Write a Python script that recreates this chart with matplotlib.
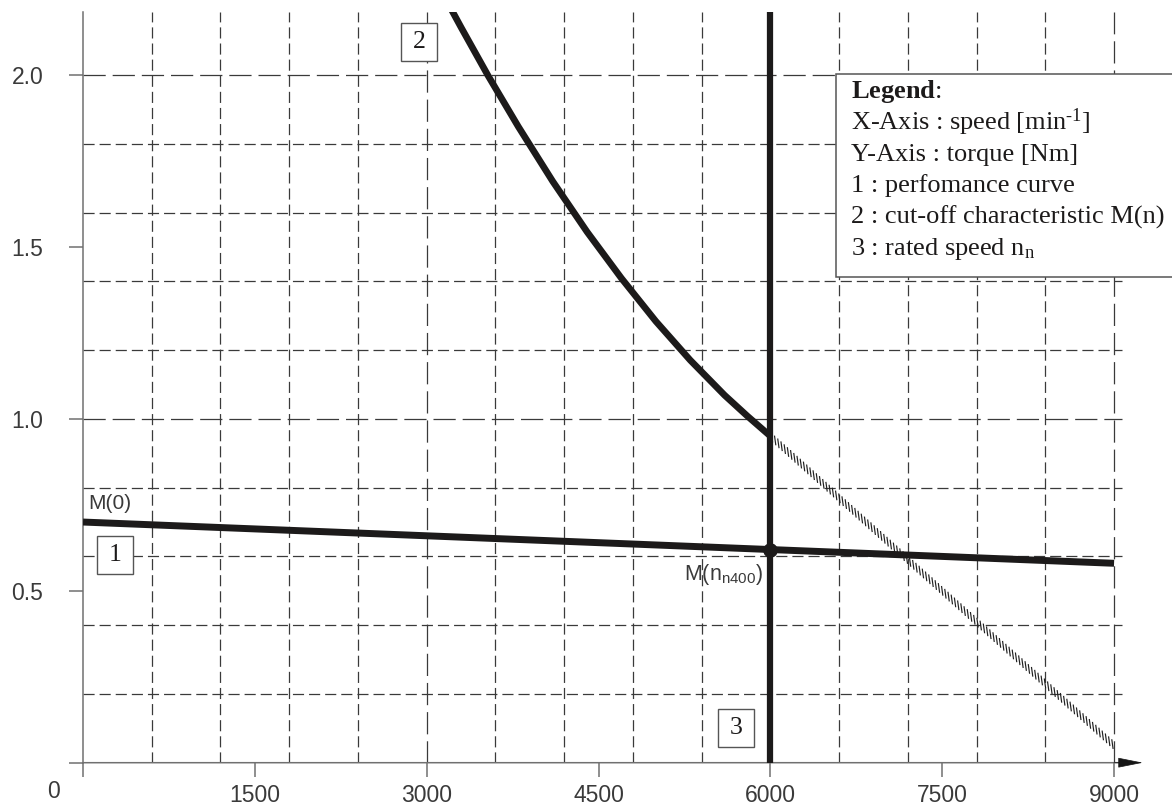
import matplotlib
matplotlib.use("Agg")
import matplotlib.pyplot as plt
import matplotlib.patheffects as pe
import matplotlib.transforms as mtransforms
from matplotlib.patches import Rectangle

plt.rcParams["lines.scale_dashes"] = False
plt.rcParams["font.family"] = ["Liberation Sans", "DejaVu Sans"]
plt.rcParams["mathtext.fontset"] = "custom"
plt.rcParams["mathtext.rm"] = "Liberation Serif"
plt.rcParams["mathtext.it"] = "Liberation Serif:italic"
plt.rcParams["mathtext.bf"] = "Liberation Serif:bold"

# --- values ---
x_ticks = [0, 1500, 3000, 4500, 6000, 7500, 9000]
x_tick_labels = ["", "1500", "3000", "4500", "6000", "7500", "9000"]
y_ticks = [0, 0.5, 1.0, 1.5, 2.0]
y_tick_labels = ["", "0.5", "1.0", "1.5", "2.0"]

grid_speed_short = [600, 1200, 1800, 2400, 3600, 4200, 4800, 5400, 6600, 7200, 7800, 8400]
grid_speed_long = [3000, 6000, 9000]
grid_torque_short = [0.2, 0.4, 0.6, 0.8, 1.2, 1.4, 1.6, 1.8]
grid_torque_long = [1.0, 2.0]

# 1 : performance curve
perf_speed = [0, 1500, 3000, 4500, 6000, 7500, 9000]
perf_torque = [0.700, 0.680, 0.660, 0.640, 0.620, 0.600, 0.580]

# 2 : cut-off characteristic M(n)
cutoff_speed = [3150, 3300, 3533, 3800, 4100, 4400, 4700, 5000, 5300, 5600, 5800, 6000]
cutoff_torque = [2.231, 2.139, 2.000, 1.850, 1.691, 1.544, 1.409, 1.284, 1.171, 1.069, 1.008, 0.950]

# continuation of the cut-off line beyond rated speed (hatched)
ext_speed = [6000, 9000]
ext_torque = [0.95, 0.05]

# 3 : rated speed
rated_speed = 6000
rated_torque = 0.62

box_labels = ["1", "2", "3"]
box_speed = [279, 2933, 5700]
box_torque = [0.604, 2.095, 0.10]

legend_lines = [
    r"$\mathbf{Legend}$:",
    "X-Axis : speed [min$^{\\mathregular{\u20101}}$]",
    "Y-Axis : torque [Nm]",
    "1 : perfomance curve",
    "2 : cut-off characteristic M(n)",
    r"3 : rated speed n$_{\mathregular{n}}$",
]

W, H = 1172, 805
ink = "#1c1a1a"
grid_col = "#3a3a3a"
axis_col = "#707070"
label_col = "#3a3a3a"

fig = plt.figure(figsize=(W / 100, H / 100), dpi=100)
ax = fig.add_axes([83 / W, (H - 762.7) / H, 1059.7 / W, 751 / H])
ax.set_xlim(0, 9250)
ax.set_ylim(0, 2.1844)

# grid: short dashes every 600 / 0.2, long dashes on the round values
short_dash = (0, (8, 3.6))
long_dash = (0, (16, 5))
for n in grid_speed_short:
    ax.axvline(n, color=grid_col, lw=0.9, ls=short_dash, zorder=1)
for n in grid_speed_long:
    ax.axvline(n, color=grid_col, lw=0.9, ls=long_dash, zorder=1)
ax.hlines(grid_torque_short, 0, 9070, color=grid_col, lw=0.9, linestyles=[short_dash], zorder=1)
ax.hlines(grid_torque_long, 0, 9070, color=grid_col, lw=0.9, linestyles=[long_dash], zorder=1)

# axes
for s in ["top", "right", "bottom"]:
    ax.spines[s].set_visible(False)
ax.spines["left"].set_color(axis_col)
ax.spines["left"].set_linewidth(1.1)
ax.annotate("", xy=(9090, 0), xytext=(0, 0), annotation_clip=False,
            arrowprops=dict(arrowstyle="-", color=axis_col, lw=1.1,
                            shrinkA=0, shrinkB=0))
ax.annotate("", xy=(9250, 0), xytext=(9000, 0), annotation_clip=False,
            arrowprops=dict(arrowstyle="-|>,head_length=1.6,head_width=0.32",
                            mutation_scale=10, color="#151515", lw=0.5,
                            shrinkA=0, shrinkB=0))

ax.set_xticks(x_ticks)
ax.set_xticklabels(x_tick_labels)
ax.set_yticks(y_ticks)
ax.set_yticklabels(y_tick_labels)
ax.tick_params(direction="out", length=10, width=1.1, color=axis_col,
               labelsize=16.5, labelcolor=label_col)
ax.tick_params(axis="x", pad=5)
ax.tick_params(axis="y", pad=18.5)
ax.annotate("0", xy=(0, 0), xytext=(-21.6, -20.5), textcoords="offset points",
            ha="center", va="center", fontsize=16.5, color=label_col)

# curves
ax.plot(perf_speed, perf_torque, color=ink, lw=5, solid_capstyle="butt", zorder=4)
ax.plot(cutoff_speed, cutoff_torque, color=ink, lw=4.8, solid_capstyle="butt",
        solid_joinstyle="round", zorder=4)
ax.axvline(rated_speed, color=ink, lw=4.5, zorder=4)
ax.plot(ext_speed, ext_torque, lw=0, zorder=3,
        path_effects=[pe.TickedStroke(angle=-40, spacing=3.1, length=2.0,
                                      offset=(-0.45, 3.05), linewidth=0.85,
                                      foreground="#202020")])
ax.plot([rated_speed], [rated_torque], "o", ms=9.5, color=ink, zorder=5)

ax.annotate("M(0)", xy=(perf_speed[0], perf_torque[0]), xytext=(3.6, 9.1),
            textcoords="offset points", ha="left", va="baseline",
            fontsize=15, color=label_col)
ax.annotate(r"M(n$_{\mathregular{n400}}$)", xy=(rated_speed, rated_torque),
            xytext=(-5, -21.6), textcoords="offset points", ha="right",
            va="baseline", fontsize=15.5, color=label_col)

# numbered boxes
for lab, n, m in zip(box_labels, box_speed, box_torque):
    trans = fig.dpi_scale_trans + mtransforms.ScaledTranslation(n, m, ax.transData)
    ax.add_patch(Rectangle((-0.18, -0.19), 0.36, 0.38, transform=trans,
                           fc="white", ec="#555555", lw=1.0, zorder=6))
    ax.text(n, m, lab, ha="center", va="center", fontsize=18.5,
            family="Liberation Serif", color=ink, zorder=7)

# legend box
fig.add_artist(Rectangle((836 / W, (H - 277) / H), (1200 - 836) / W, (277 - 74) / H,
                         transform=fig.transFigure, fc="white", ec="#555555",
                         lw=1.1, zorder=3))
for i, line in enumerate(legend_lines):
    fig.text(851 / W, 1 - (98.3 + i * 31.3) / H, line, ha="left", va="baseline",
             fontsize=19, family="Liberation Serif", color=ink, zorder=4)

fig.savefig("out.png", dpi=100)
